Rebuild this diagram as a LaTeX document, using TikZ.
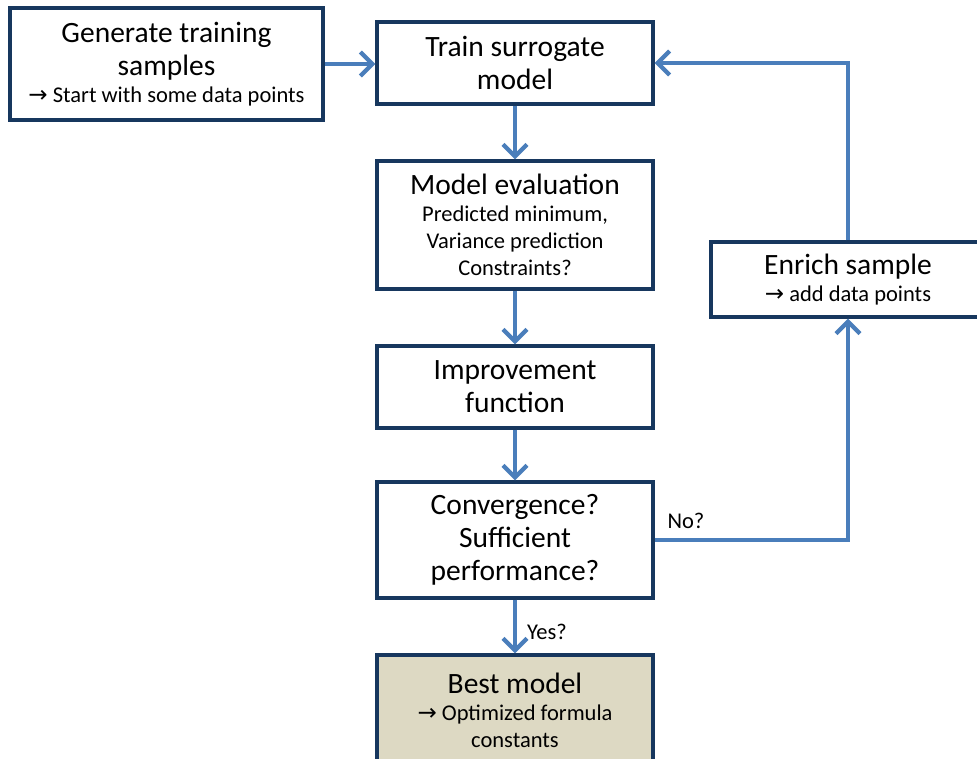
\documentclass[tikz,border=0pt]{standalone}
\usepackage{fontspec}
\setmainfont{Carlito}
\newfontfamily\arrfont{DejaVu Sans}
\usetikzlibrary{arrows.meta}
\definecolor{boxline}{HTML}{17375E}
\definecolor{arrowblue}{HTML}{4A7EBB}
\definecolor{tanfill}{HTML}{DDD9C3}
\newcommand\mainsz{\fontsize{29.5}{33}\selectfont}
\newcommand\subsz{\fontsize{22.5}{27}\selectfont}
\newcommand\rarr{{\arrfont\fontsize{23}{27}\selectfont →}}
\begin{document}
\begin{tikzpicture}[x=1pt,y=-1pt,
  box/.style={draw=boxline, line width=3.4pt, fill=white, align=center, inner sep=0pt,
              minimum width=276pt, font=\mainsz},
  flow/.style={draw=arrowblue, line width=4.2pt, -{Straight Barb[length=12pt,width=24pt]}},
  lbl/.style={font=\subsz, inner sep=0pt}]
\useasboundingbox (0,0) rectangle (977,758);
\fill[white] (0,0) rectangle (977,758);

\node[box, minimum width=313pt, minimum height=112pt] (gen) at (166.5,64)
  {Generate training\\samples\\[-6pt]{\subsz\rarr\ Start with some data points}};
\node[box, minimum height=82pt] (train) at (515,63) {Train surrogate\\model};
\node[box, minimum height=128pt] (eval) at (515,225)
  {Model evaluation\\[-6pt]{\subsz Predicted minimum,}\\[-6pt]{\subsz Variance prediction}\\[-6pt]{\subsz Constraints?}};
\node[box, minimum height=82pt] (impr) at (515,387) {Improvement\\function};
\node[box, minimum height=116pt] (conv) at (515,540) {Convergence?\\Sufficient\\performance?};
\node[box, fill=tanfill, minimum height=110pt] (best) at (515,710)
  {Best model\\[-6pt]{\subsz\rarr\ Optimized formula}\\[-6pt]{\subsz constants}};
\node[box, minimum width=274pt, minimum height=75pt] (enrich) at (848,279.5)
  {Enrich sample\\[-6pt]{\subsz\rarr\ add data points}};

\draw[flow] (gen.east) -- (gen.east -| train.west);
\draw[flow] (train) -- (eval);
\draw[flow] (eval) -- (impr);
\draw[flow] (impr) -- (conv);
\draw[flow] (conv) -- (best);
\draw[flow] (conv.east) -| (enrich.south);
\draw[flow] (enrich.north) |- (train.east);

\node[lbl] (no) at (686,521) {No?};
\node[lbl] (yes) at (547,632) {Yes?};
\end{tikzpicture}
\end{document}
